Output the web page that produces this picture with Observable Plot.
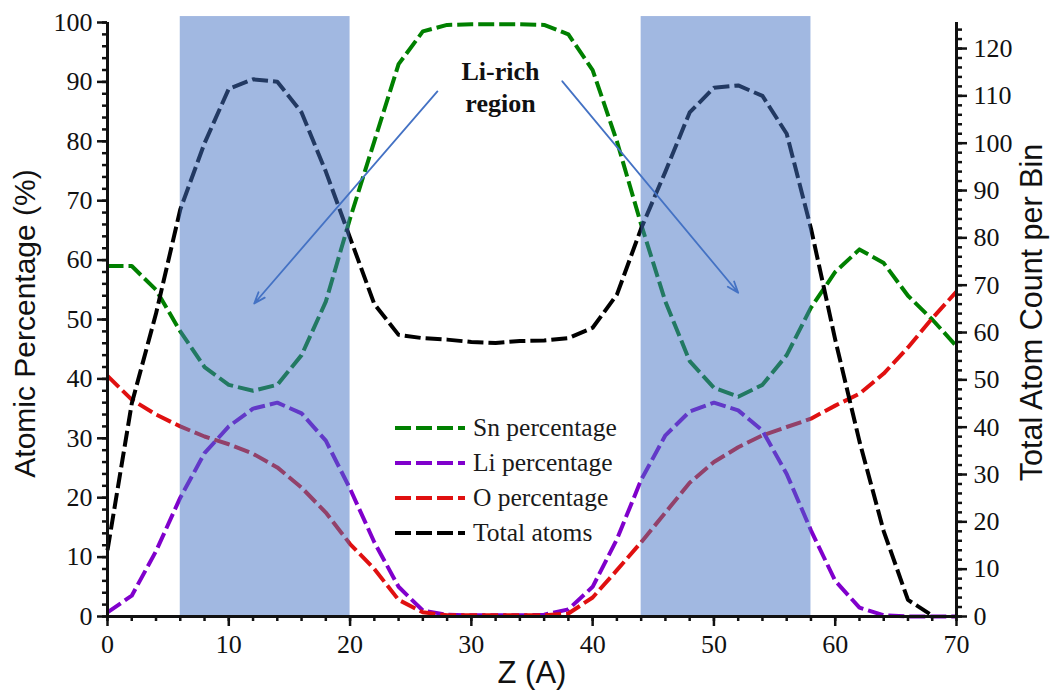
<!DOCTYPE html>
<html><head><meta charset="utf-8">
<script src="https://cdn.jsdelivr.net/npm/d3@7"></script>
<script src="https://cdn.jsdelivr.net/npm/@observablehq/plot@0.6"></script>
<style>
body{margin:0;background:#fff;}
#wrap{position:relative;width:1051px;height:693px;}
#legend{position:absolute;left:395px;top:410px;font-family:"Liberation Serif",serif;font-size:25.5px;color:#1a1a1a;}
.row{display:flex;align-items:center;height:35px;}
.row svg{margin-right:8px;}
</style></head><body><div id="wrap"></div>
<script>
// Z positions (A)
const z = d3.range(0, 71, 2);
// Atomic percentages (%)
const sn = [59, 59, 55, 48, 42, 39, 38, 39, 44, 53, 67, 80, 93, 98.5, 99.6, 99.7, 99.7, 99.7, 99.6, 98, 92, 80, 66, 53, 43, 38.5, 37, 39, 44, 52, 58, 61.8, 59.5, 54, 50, 45.5];
const li = [0.7, 3.5, 11, 20, 27.5, 32, 35, 36, 34.2, 29.6, 21.5, 12.5, 5, 1, 0.3, 0.2, 0.2, 0.2, 0.3, 1.2, 5, 13, 23, 30.5, 34.5, 36, 34.7, 31.3, 24, 14.5, 6, 1.5, 0.2, 0, 0, 0];
const ox = [40.5, 36.5, 34, 32, 30.3, 29, 27.4, 25.1, 21.7, 17.5, 12.2, 8, 2.8, 0.7, 0.2, 0.2, 0.2, 0.2, 0.2, 0.5, 3.2, 7.8, 12.5, 17.5, 22.5, 26, 28.5, 30.5, 31.9, 33.3, 35.5, 37.5, 40.9, 45.3, 50.2, 54.7];
// Total atom count per bin (right axis)
const total = [14, 45, 64, 86, 100, 111.5, 113.5, 113, 106.5, 94, 80, 66, 59.5, 58.8, 58.5, 58, 57.8, 58.2, 58.3, 58.8, 61, 68, 82, 94, 106.5, 111.7, 112.2, 110, 102, 82, 58.5, 37, 18, 3.5, 0.2, null];
const RMAX = 125.5; // right axis value at top of the frame

// Li-rich shaded regions
const shadeStart = [6, 44];
const shadeEnd = [20, 58];
const shadeBottom = [0, 0];
const shadeTop = [101, 101];

// annotation
const noteText = ["Li-rich\nregion"];
const noteX = [32.4];
const noteY = [89.3];
const arrowX1 = [27.2, 37.5];
const arrowY1 = [88.4, 90.1];
const arrowX2 = [12.1, 52];
const arrowY2 = [52.7, 54.5];

const seriesNames = ["Sn percentage", "Li percentage", "O percentage", "Total atoms"];
const seriesColors = ["#008000", "#8000cc", "#e01010", "#000000"];

const leftTicks = d3.range(0, 101, 10);
const leftMinor = d3.range(0, 101, 2);
const rightTicks = d3.range(0, 121, 10);
const rightMinor = d3.range(0, 125, 2);
const xTicks = d3.range(0, 71, 10);
const xMinor = d3.range(0, 71, 2);

const data = z.map((x, i) => ({z: x, sn: sn[i], li: li[i], o: ox[i], total: total[i]}));
const shades = shadeStart.map((s, i) => ({s, e: shadeEnd[i], b: shadeBottom[i], t: shadeTop[i]}));
const arrows = arrowX1.map((x, i) => ({x1: x, y1: arrowY1[i], x2: arrowX2[i], y2: arrowY2[i]}));
const notes = noteText.map((t, i) => ({t, x: noteX[i], y: noteY[i]}));
const toPct = v => v * 100 / RMAX;

const dash = "16,5";
const lineOpts = {x: "z", strokeWidth: 4, strokeDasharray: dash, strokeLinecap: "butt", strokeLinejoin: "round"};
const sans = "'Liberation Sans', Arial, sans-serif";
const serif = "'Liberation Serif', 'Times New Roman', serif";

const plot = Plot.plot({
  width: 1051, height: 693,
  marginLeft: 107, marginRight: 95, marginTop: 22, marginBottom: 77,
  x: {domain: [0, 70]},
  y: {domain: [0, 100]},
  style: {fontFamily: serif, fontSize: "26px", color: "#111", background: "white", overflow: "visible"},
  marks: [
    Plot.lineY(data, {...lineOpts, y: "sn", stroke: seriesColors[0]}),
    Plot.lineY(data, {...lineOpts, y: "li", stroke: seriesColors[1]}),
    Plot.lineY(data, {...lineOpts, y: "o", stroke: seriesColors[2]}),
    Plot.lineY(data.filter(d => d.total != null), {...lineOpts, y: d => toPct(d.total), stroke: seriesColors[3]}),
    Plot.rect(shades, {x1: "s", x2: "e", y1: "b", y2: "t", fill: "#4472c4", fillOpacity: 0.5}),
    Plot.arrow(arrows, {x1: "x1", y1: "y1", x2: "x2", y2: "y2", stroke: "#4472c4", strokeWidth: 1.8, headLength: 10, headAngle: 40}),
    Plot.text(notes, {x: "x", y: "y", text: "t", fontWeight: "bold", fontSize: 26, fontFamily: serif, lineHeight: 1.2, fill: "#111"}),
    Plot.axisY(leftMinor, {tickSize: 5, tickFormat: () => "", label: null, strokeWidth: 2.5}),
    Plot.axisY(leftTicks, {tickSize: 10, tickPadding: 5, label: null, strokeWidth: 2.5, fontSize: 26, fontFamily: serif}),
    Plot.axisY(rightMinor.map(toPct), {anchor: "right", tickSize: 5, tickFormat: () => "", label: null, strokeWidth: 2.5}),
    Plot.axisY(rightTicks.map(toPct), {anchor: "right", tickSize: 10, tickPadding: 7, tickFormat: d => String(Math.round(d * RMAX / 100)), label: null, strokeWidth: 2.5, fontSize: 26, fontFamily: serif}),
    Plot.axisX(xMinor, {tickSize: 5, tickFormat: () => "", label: null, strokeWidth: 2.5}),
    Plot.axisX(xTicks, {tickSize: 10, tickPadding: 8, label: null, strokeWidth: 2.5, fontSize: 26, fontFamily: serif}),
    Plot.ruleX([0], {strokeWidth: 3}),
    Plot.ruleX([70], {strokeWidth: 3}),
    Plot.ruleY([0], {strokeWidth: 3}),
    Plot.text(["Atomic Percentage (%)"], {frameAnchor: "left", textAnchor: "middle", rotate: -90, dx: -82, dy: 4, fontFamily: sans, fontSize: 30, fill: "#111"}),
    Plot.text(["Total Atom Count per Bin"], {frameAnchor: "right", textAnchor: "middle", rotate: -90, dx: 76, dy: -7, fontFamily: sans, fontSize: 30.5, fill: "#111"}),
    Plot.text(["Z (A)"], {frameAnchor: "bottom", dy: 66, fontFamily: sans, fontSize: 31, fill: "#111"})
  ]
});
const wrap = document.getElementById("wrap");
wrap.appendChild(plot);

const legend = document.createElement("div");
legend.id = "legend";
seriesNames.forEach((name, i) => {
  const row = document.createElement("div");
  row.className = "row";
  row.innerHTML = `<svg width="70" height="8"><line x1="0" y1="4" x2="70" y2="4" stroke="${seriesColors[i]}" stroke-width="4" stroke-dasharray="${dash}"/></svg><span>${name}</span>`;
  legend.appendChild(row);
});
wrap.appendChild(legend);
</script></body></html>
